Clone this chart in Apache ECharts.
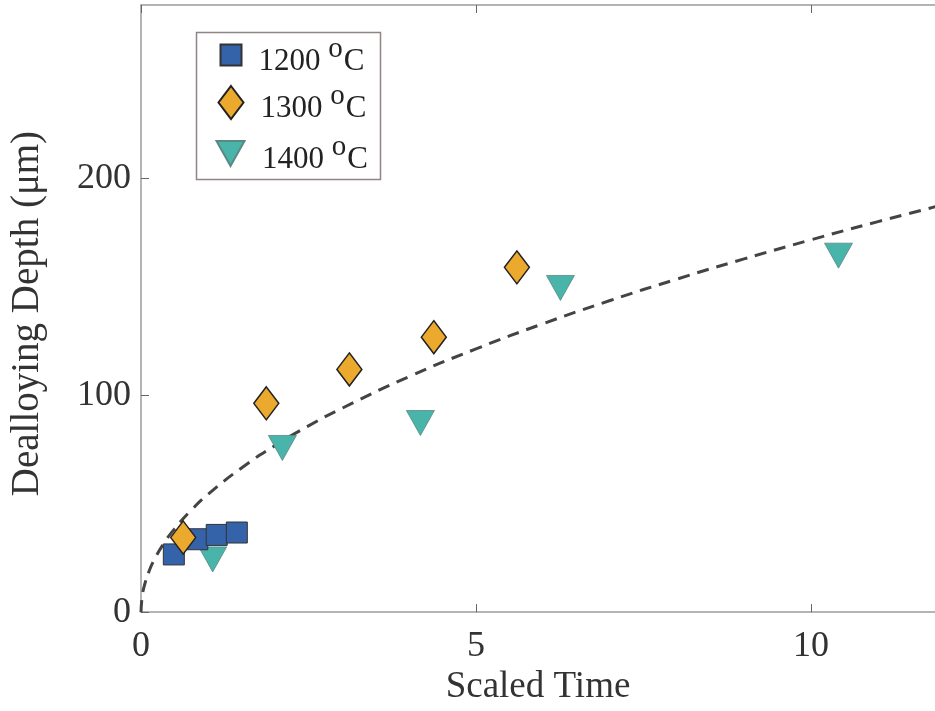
<!DOCTYPE html>
<html>
<head>
<meta charset="utf-8">
<script src="https://cdn.jsdelivr.net/npm/echarts@6/dist/echarts.min.js"></script>
<style>html,body{margin:0;padding:0;background:#fff;}#c{width:935px;height:711px;}</style>
</head>
<body>
<div id="c"></div>
<script>
// ---- data ----
const seriesNames = ['1200', '1300', '1400'];
const x1200 = [0.49, 0.84, 1.13, 1.43];
const y1200 = [26.6, 33.6, 35.6, 36.7];
const x1300 = [0.63, 1.87, 3.11, 4.37, 5.61];
const y1300 = [34.4, 96.3, 111.9, 126.8, 159.0];
const x1400 = [1.07, 2.11, 4.17, 6.26, 10.41];
const y1400 = [24.3, 75.7, 87.2, 149.5, 164.4];
const curveX = [0, 0.02, 0.06, 0.12, 0.2, 0.35, 0.5, 0.75, 1, 1.5, 2, 2.5, 3, 4, 5, 6, 7, 8, 9, 10, 11, 12];
const curveY = [0, 7.7, 13.3, 18.8, 24.3, 32.1, 38.4, 47.0, 54.3, 66.5, 76.8, 85.9, 94.0, 108.6, 121.4, 133.0, 143.7, 153.6, 162.9, 171.7, 180.1, 188.1];
const xTicks = [0, 5, 10];
const yTicks = [0, 100, 200];

const zip = (a, b) => a.map((v, i) => [v, b[i]]);
const FONT = 'Liberation Serif';
const axisColor = '#a09a9a';
const richLegend = {
  a: { fontFamily: FONT, fontSize: 31, color: '#222', padding: [13, 0, 0, 12] },
  b: { fontFamily: FONT, fontSize: 31, color: '#222', padding: [13, 0, 0, 0] },
  sup: { fontFamily: FONT, fontSize: 29, color: '#222', padding: [0, 1, 12, 0] }
};
const legendFmt = name => '{a|' + name + ' }{sup|o}{b|C}';
function mkLegend(name, w, h, cy, icon) {
  const l = {
    data: [name], orient: 'vertical', left: 230 - w / 2, top: cy - 22,
    itemWidth: w, itemHeight: h, padding: 0, selectedMode: false,
    formatter: legendFmt, textStyle: { rich: richLegend }
  };
  if (icon) l.icon = icon;
  return l;
}

const chart = echarts.init(document.getElementById('c'));
chart.setOption({
  animation: false,
  backgroundColor: '#fff',
  grid: { left: 139, top: 5, bottom: 96, right: 0, containLabel: false },
  graphic: [{
    type: 'rect', left: 194, top: 30, z: 10,
    shape: { width: 184, height: 147 },
    style: { fill: 'none', stroke: '#8f8585', lineWidth: 1.5 }
  }],
  legend: [
    mkLegend('1200', 21, 21, 56.5),
    mkLegend('1300', 25, 33, 104),
    mkLegend('1400', 29, 25, 155, 'path://M0,0L28,0L14,25Z')
  ],
  xAxis: [{
    type: 'value', min: 0, max: 11.85, interval: 5,
    name: 'Scaled Time', nameLocation: 'middle', nameGap: 50,
    nameTextStyle: { fontFamily: FONT, fontSize: 37, color: '#333' },
    axisLine: { lineStyle: { color: axisColor, width: 1.5 } },
    axisTick: { inside: true, length: 8, lineStyle: { color: '#666' } },
    axisLabel: { fontFamily: FONT, fontSize: 36, color: '#333', margin: 16, showMaxLabel: false,
      formatter: v => xTicks.includes(v) ? String(v) : '' },
    splitLine: { show: false }
  }, {
    type: 'value', min: 0, max: 11.85, interval: 5, position: 'top',
    axisLine: { lineStyle: { color: axisColor, width: 1.5 } },
    axisTick: { inside: true, length: 8, lineStyle: { color: '#666' } },
    axisLabel: { show: false }, splitLine: { show: false }
  }],
  yAxis: {
    type: 'value', min: 0, max: 280, interval: 100,
    name: 'Dealloying Depth (μm)', nameLocation: 'middle', nameGap: 94,
    nameTextStyle: { fontFamily: FONT, fontSize: 39, color: '#333', padding: [0, 10, 0, 0] },
    axisLine: { lineStyle: { color: axisColor, width: 1.5 } },
    axisTick: { inside: true, length: 8, lineStyle: { color: '#666' } },
    axisLabel: { fontFamily: FONT, fontSize: 36, color: '#333', margin: 10, showMaxLabel: false,
      formatter: v => yTicks.includes(v) ? String(v) : '' },
    splitLine: { show: false }
  },
  series: [{
    type: 'line', name: 'fit', data: zip(curveX, curveY), smooth: 0.5,
    showSymbol: false, silent: true, clip: true,
    lineStyle: { color: '#444', width: 3, type: [12, 8] }, z: 1
  }, {
    type: 'scatter', name: seriesNames[0], data: zip(x1200, y1200),
    symbol: 'rect', symbolSize: [21, 21],
    itemStyle: { color: '#3563AA', borderColor: '#333', borderWidth: 1, opacity: 1 }, z: 3
  }, {
    type: 'scatter', name: seriesNames[1], data: zip(x1300, y1300),
    symbol: 'diamond', symbolSize: [25, 33],
    itemStyle: { color: '#EBAA2D', borderColor: '#222', borderWidth: 1.5, opacity: 1 }, z: 4
  }, {
    type: 'scatter', name: seriesNames[2], data: zip(x1400, y1400),
    symbol: 'triangle', symbolRotate: 180, symbolSize: [28, 25],
    itemStyle: { color: '#48B4AA', borderColor: '#5c8884', borderWidth: 0.8, opacity: 1 }, z: 2
  }]
});
</script>
</body>
</html>
